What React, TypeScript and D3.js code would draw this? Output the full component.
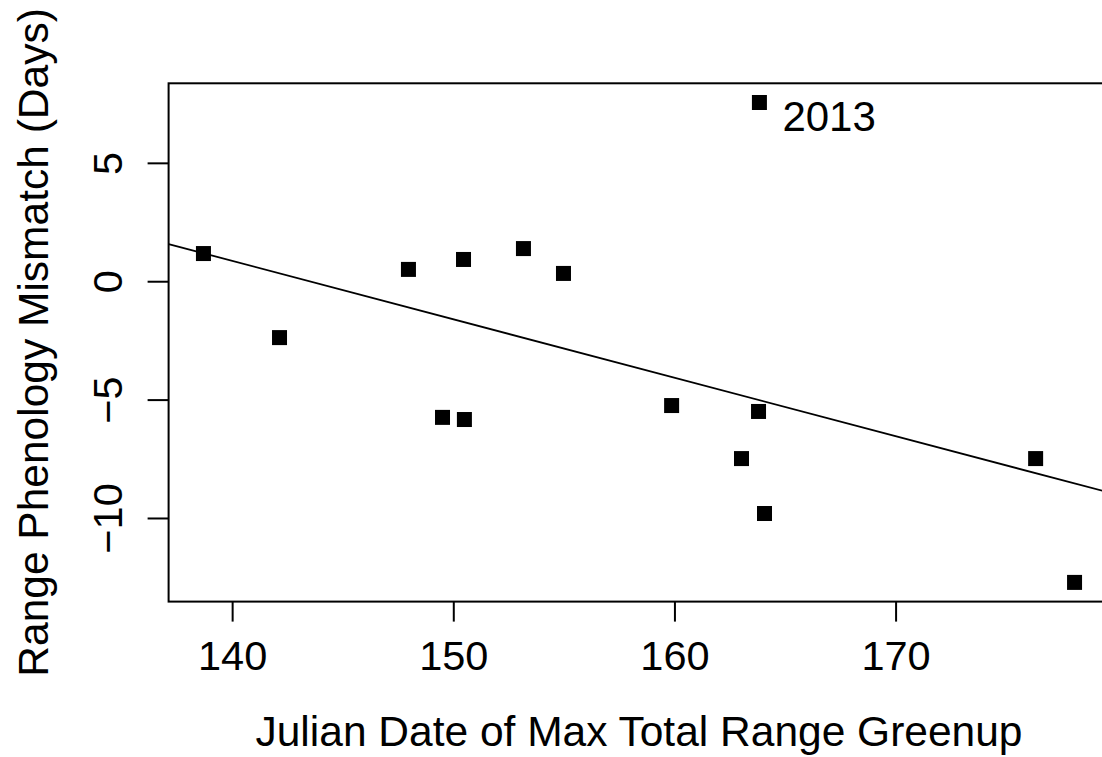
import React from "react";
import * as d3 from "d3";

const julianDates = [138.68, 142.12, 147.95, 149.49, 150.44, 150.48, 153.15, 154.96, 159.85, 163.01, 163.82, 163.78, 164.05, 176.31, 178.07];
const mismatch = [1.19, -2.36, 0.52, -5.73, 0.94, -5.82, 1.40, 0.35, -5.23, -7.47, 7.57, -5.48, -9.79, -7.47, -12.70];
const labelledIndex = 10;
const labelText = "2013";
const xTicks = [140, 150, 160, 170];
const yTicks = [-10, -5, 0, 5];
const xTitle = "Julian Date of Max Total Range Greenup";
const yTitle = "Range Phenology Mismatch (Days)";

const W = 1102;
const H = 757;
const FONT = "'Liberation Sans', Arial, Helvetica, sans-serif";
const FS_TICK = 41.5;
const FS_TITLE = 42.5;
const FS_LABEL = 42;

function pad(ext: [number, number]): [number, number] {
  const r = ext[1] - ext[0];
  return [ext[0] - 0.04 * r, ext[1] + 0.04 * r];
}

export default function App() {
  const left = 168.6, right = 1109.4, top = 83.3, bottom = 601.6;
  const x = d3.scaleLinear().domain(pad(d3.extent(julianDates) as [number, number])).range([left, right]);
  const y = d3.scaleLinear().domain(pad(d3.extent(mismatch) as [number, number])).range([bottom, top]);

  // OLS fit
  const mx = d3.mean(julianDates)!;
  const my = d3.mean(mismatch)!;
  let sxy = 0, sxx = 0;
  julianDates.forEach((xv, i) => {
    sxy += (xv - mx) * (mismatch[i] - my);
    sxx += (xv - mx) * (xv - mx);
  });
  const slope = sxy / sxx;
  const intercept = my - slope * mx;
  const [x0, x1] = x.domain();
  const lineGen = d3.line<number>().x((d) => x(d)).y((d) => y(intercept + slope * d));

  const sq = 15;

  return (
    <svg width={W} height={H} style={{ position: "absolute", left: 0, top: 0, background: "#fff" }} fontFamily={FONT}>
      <style>{`body{margin:0}`}</style>
      <defs>
        <clipPath id="plotclip">
          <rect x={left} y={top} width={right - left} height={bottom - top} />
        </clipPath>
      </defs>
      <rect x={0} y={0} width={W} height={H} fill="#fff" />
      <path d={lineGen([x0, x1]) || ""} stroke="#000" strokeWidth={1.8} fill="none" clipPath="url(#plotclip)" />
      {julianDates.map((xv, i) => (
        <rect key={i} x={x(xv) - sq / 2} y={y(mismatch[i]) - sq / 2} width={sq} height={sq} fill="#000" />
      ))}
      <text x={x(julianDates[labelledIndex]) + 23} y={y(mismatch[labelledIndex]) + 28.5} fontSize={FS_LABEL} fill="#000">
        {labelText}
      </text>
      <rect x={left} y={top} width={right - left} height={bottom - top} fill="none" stroke="#000" strokeWidth={2} />
      {xTicks.map((t) => (
        <g key={t}>
          <line x1={x(t)} x2={x(t)} y1={bottom} y2={bottom + 20} stroke="#000" strokeWidth={2} />
          <text x={x(t)} y={670} fontSize={FS_TICK} textAnchor="middle" fill="#000">{t}</text>
        </g>
      ))}
      {yTicks.map((t) => (
        <g key={t}>
          <line x1={left - 21} x2={left} y1={y(t)} y2={y(t)} stroke="#000" strokeWidth={2} />
          <text transform={`translate(122,${y(t)}) rotate(-90)`} fontSize={FS_TICK} textAnchor="middle" fill="#000">
            {t < 0 ? `\u2212${Math.abs(t)}` : `${t}`}
          </text>
        </g>
      ))}
      <text x={639} y={746} fontSize={FS_TITLE} textAnchor="middle" fill="#000">{xTitle}</text>
      <text transform={`translate(48,${(top + bottom) / 2}) rotate(-90)`} fontSize={FS_TITLE} textAnchor="middle" fill="#000">
        {yTitle}
      </text>
    </svg>
  );
}
